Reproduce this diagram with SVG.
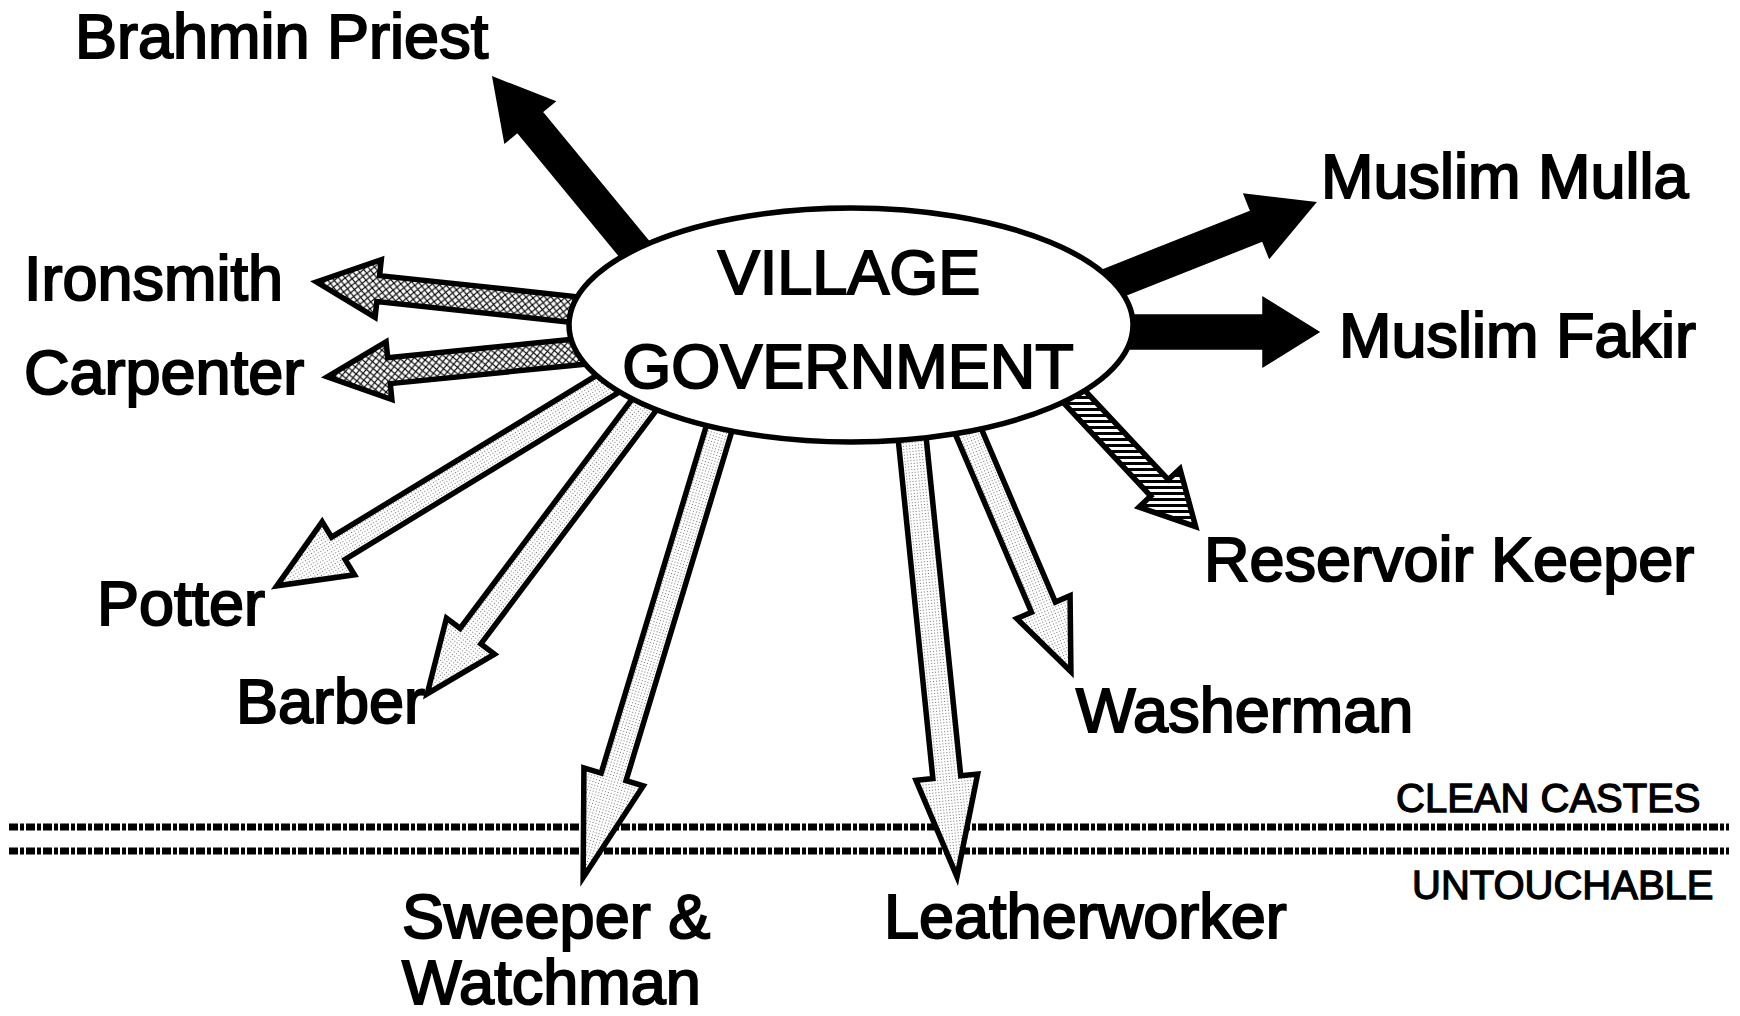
<svg xmlns="http://www.w3.org/2000/svg" width="1740" height="1016" viewBox="0 0 1740 1016">
<style>
text{font-family:"Liberation Sans",Arial,sans-serif;font-size:63px;fill:#000;stroke:#000;stroke-width:2px}
.small{font-size:40px;stroke-width:1.3px}
.mid{text-anchor:middle}
.arr{stroke:#000;stroke-width:5.5;stroke-linejoin:miter;stroke-miterlimit:10}
.black{fill:#000}
.hatch{fill:url(#cross)}
.dots{fill:url(#dots)}
.stripe{fill:url(#stripes)}
.sep{stroke:#000;stroke-width:7;stroke-dasharray:9 2 4 2;fill:none}
</style>
<defs>
<pattern id="cross" width="7" height="7" patternUnits="userSpaceOnUse">
<rect width="7" height="7" fill="#fff"/>
<path d="M0,0L7,7M7,0L0,7" stroke="#000" stroke-width="1.2"/>
</pattern>
<pattern id="dots" width="3" height="3" patternUnits="userSpaceOnUse">
<rect width="3" height="3" fill="#fff"/>
<rect width="1" height="1" fill="#777"/>
</pattern>
<pattern id="stripes" width="6" height="6" patternUnits="userSpaceOnUse" patternTransform="rotate(-46.94)">
<rect width="6" height="6" fill="#fff"/>
<rect width="6" height="3" fill="#000"/>
</pattern>
</defs>
<rect width="1740" height="1016" fill="#fff"/>
<g id="caste-lines">
<line class="sep" x1="9" y1="827" x2="1729" y2="827"/>
<line class="sep" x1="9" y1="851" x2="1729" y2="851"/>
</g>
<g id="connectors">
<g transform="translate(650,268) rotate(-129.47)"><polygon class="arr black" points="0,-14 191,-14 191,-29 243,0 191,29 191,14 0,14"/></g>
<g transform="translate(1108,285) rotate(-21.65)"><polygon class="arr black" points="0,-14 162,-14 162,-31 219,0 162,31 162,14 0,14"/></g>
<g transform="translate(1110,332)"><polygon class="arr black" points="0,-15 155,-15 155,-31 205,0 155,31 155,15 0,15"/></g>
<g transform="translate(588,311) rotate(186.1)"><polygon class="arr hatch" points="0,-13 211,-13 211,-29 273,0 211,29 211,13 0,13"/></g>
<g transform="translate(586,351) rotate(174.3)"><polygon class="arr hatch" points="0,-13 198,-13 198,-29 260,0 198,29 198,13 0,13"/></g>
<g transform="translate(614,380) rotate(148.6)"><polygon class="arr dots" points="0,-13 323,-13 323,-31 395,0 323,31 323,13 0,13"/></g>
<g transform="translate(650,397) rotate(126.9)"><polygon class="arr dots" points="0,-13 299,-13 299,-30 371,0 299,30 299,13 0,13"/></g>
<g transform="translate(722,419) rotate(106.85)"><polygon class="arr dots" points="0,-13 374,-13 374,-31 479,0 374,31 374,13 0,13"/></g>
<g transform="translate(911,427) rotate(84.16)"><polygon class="arr dots" points="0,-14 352,-14 352,-31 452,0 352,31 352,14 0,14"/></g>
<g transform="translate(966,426) rotate(66.86)"><polygon class="arr dots" points="0,-13 197,-13 197,-29 267,0 197,29 197,13 0,13"/></g>
<g transform="translate(1068,390) rotate(46.94)"><polygon class="arr stripe" points="0,-12 134,-12 134,-28 187,0 134,28 134,12 0,12"/></g>
</g>
<g id="village-government">
<ellipse cx="851" cy="325" rx="282" ry="117" fill="#fff" stroke="#000" stroke-width="5.5"/>
<text class="mid" x="849" y="294">VILLAGE</text>
<text class="mid" x="848" y="388">GOVERNMENT</text>
</g>
<g id="brahmin-priest"><text x="75" y="58">Brahmin Priest</text></g>
<g id="ironsmith"><text x="24" y="300">Ironsmith</text></g>
<g id="carpenter"><text x="24" y="394">Carpenter</text></g>
<g id="muslim-mulla"><text x="1321" y="198">Muslim Mulla</text></g>
<g id="muslim-fakir"><text x="1339" y="357">Muslim Fakir</text></g>
<g id="reservoir-keeper"><text x="1204" y="581">Reservoir Keeper</text></g>
<g id="potter"><text x="97" y="625">Potter</text></g>
<g id="barber"><text x="236" y="723">Barber</text></g>
<g id="washerman"><text x="1076" y="732">Washerman</text></g>
<g id="sweeper-watchman"><text x="402" y="938">Sweeper &amp;</text><text x="402" y="1004">Watchman</text></g>
<g id="leatherworker"><text x="884" y="938">Leatherworker</text></g>
<g id="clean-castes"><text class="small" x="1396" y="812">CLEAN CASTES</text></g>
<g id="untouchable"><text class="small" x="1412" y="899">UNTOUCHABLE</text></g>
</svg>
